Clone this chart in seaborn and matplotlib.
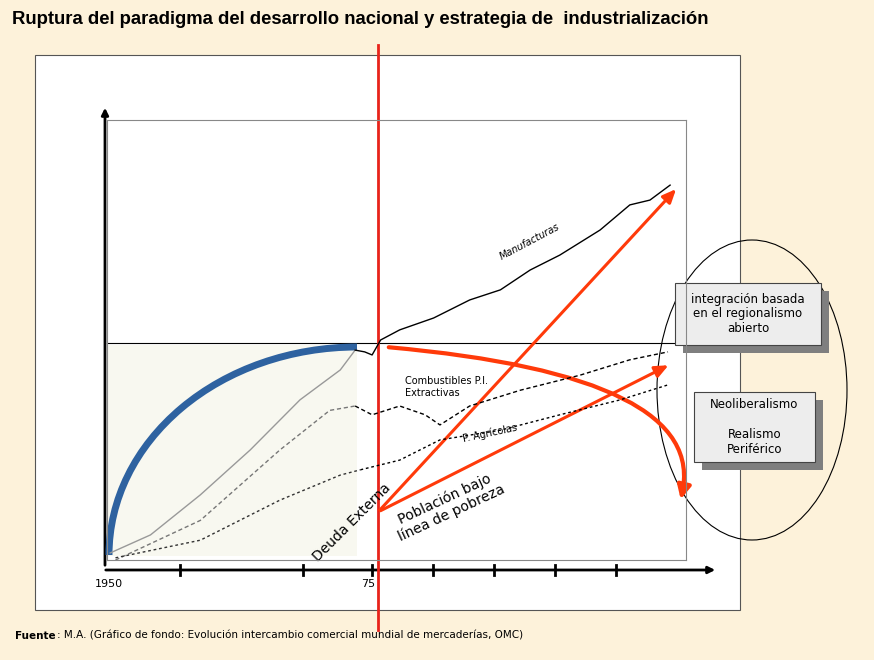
import matplotlib
matplotlib.use("Agg")
import matplotlib.pyplot as plt
import seaborn as sns
import numpy as np
from matplotlib.patches import Rectangle, Ellipse, Arc, FancyArrowPatch

# ---- data (year, index value) ----
manuf_pre_x = [1950.3, 1954.1, 1958.8, 1963.5, 1968.2, 1972.0, 1973.4]
manuf_pre_y = [1.6, 5.7, 14.8, 25.0, 36.4, 43.2, 47.7]
manuf_post_x = [1973.4, 1974.3, 1975.0, 1975.8, 1977.6, 1980.8, 1984.2, 1987.1, 1989.9, 1992.7, 1996.5, 1999.3, 2001.2, 2003.1]
manuf_post_y = [47.7, 47.3, 46.6, 50.0, 52.3, 55.0, 59.1, 61.4, 65.9, 69.3, 75.0, 80.7, 81.8, 85.2]
comb_pre_x = [1950.8, 1958.8, 1966.3, 1971.0, 1973.4]
comb_pre_y = [0.0, 9.0, 25.0, 34.0, 35.0]
comb_post_x = [1973.4, 1975.0, 1977.6, 1980.0, 1981.4, 1984.2, 1989.0, 1994.6, 1999.3, 2002.9]
comb_post_y = [35.0, 33.0, 35.0, 33.0, 30.7, 35.0, 38.6, 42.0, 45.5, 47.3]
agri_pre_x = [1950.8, 1958.8, 1966.3, 1972.0, 1973.9]
agri_pre_y = [0.5, 4.5, 13.6, 19.3, 20.5]
agri_post_x = [1973.9, 1977.6, 1981.4, 1987.1, 1992.7, 1998.4, 2002.9]
agri_post_y = [20.5, 22.7, 27.3, 29.5, 33.0, 36.4, 39.8]
tick_labels = ["1950", "75"]

CREAM = "#FDF2DA"
RED = "#E8231A"
ORANGE = "#FF3A0A"
W, H = 874, 660

fig = plt.figure(figsize=(8.74, 6.6), dpi=100, facecolor=CREAM)
bg = fig.add_axes([0, 0, 1, 1])
bg.set_xlim(0, W); bg.set_ylim(H, 0); bg.axis("off")
bg.set_facecolor(CREAM)

bg.text(12, 20, "Ruptura del paradigma del desarrollo nacional y estrategia de  industrialización",
        fontsize=13.3, fontweight="bold", va="center", family="Liberation Sans")
bg.add_patch(Rectangle((35, 55), 705, 555, facecolor="white", edgecolor="#555555", lw=0.8, zorder=1))
bg.add_patch(Rectangle((107, 345), 250, 211, facecolor="#F8F8F0", edgecolor="none", zorder=2))
bg.plot([107, 686], [343, 343], color="black", lw=0.8, zorder=3)

# axes arrows
bg.annotate("", xy=(105, 105), xytext=(105, 568), arrowprops=dict(arrowstyle="-|>", color="black", lw=2), zorder=4)
bg.annotate("", xy=(718, 570), xytext=(103, 570), arrowprops=dict(arrowstyle="-|>", color="black", lw=2), zorder=4)
for tx in [180, 303, 372, 433, 494, 555, 616]:
    bg.plot([tx, tx], [565, 575], color="black", lw=2, zorder=4)
bg.text(109, 584, tick_labels[0], ha="center", va="center", fontsize=8)
bg.text(368, 584, tick_labels[1], ha="center", va="center", fontsize=8)

# inner data axes
ax = fig.add_axes([107 / W, 100 / H, 579 / W, 440 / H])
ax.patch.set_alpha(0)
ax.set_xlim(1950, 2004.6); ax.set_ylim(0, 100)
ax.set_xticks([]); ax.set_yticks([])
for s in ax.spines.values():
    s.set_color("#888888"); s.set_linewidth(0.8)
kw = dict(ax=ax, sort=False, legend=False)
sns.lineplot(x=manuf_pre_x, y=manuf_pre_y, color="#999999", lw=1, **kw)
sns.lineplot(x=manuf_post_x, y=manuf_post_y, color="black", lw=1, **kw)
sns.lineplot(x=comb_pre_x, y=comb_pre_y, color="#777777", lw=1, linestyle=(0, (3, 2)), **kw)
sns.lineplot(x=comb_post_x, y=comb_post_y, color="black", lw=1, linestyle=(0, (3, 2)), **kw)
sns.lineplot(x=agri_pre_x, y=agri_pre_y, color="#333333", lw=1, linestyle=(0, (2, 2)), **kw)
sns.lineplot(x=agri_post_x, y=agri_post_y, color="black", lw=1, linestyle=(0, (2, 2)), **kw)

# blue arc (y axis inverted -> angles flipped)
bg.add_patch(Arc((357, 555), 496, 416, theta1=180, theta2=270, color="#2E62A0", lw=5, zorder=6))

# labels
bg.text(530, 242, "Manufacturas", rotation=28, fontsize=7, style="italic", ha="center", va="center", zorder=6)
bg.text(405, 387, "Combustibles P.I.\nExtractivas", fontsize=7, ha="left", va="center", zorder=6)
bg.text(490, 433, "P. Agrícolas", rotation=12, fontsize=7, ha="center", va="center", zorder=6)

# red line
bg.plot([378, 378], [45, 630], color=RED, lw=2, zorder=7)
# orange arrows
ap = dict(arrowstyle="-|>,head_length=0.8,head_width=0.35", color=ORANGE, lw=2.2)
bg.annotate("", xy=(678, 187), xytext=(378, 512), arrowprops=ap, zorder=8)
bg.annotate("", xy=(671, 364), xytext=(378, 512), arrowprops=ap, zorder=8)
bg.add_patch(FancyArrowPatch((386, 347), (680, 502), connectionstyle="angle3,angleA=-5,angleB=75",
                             arrowstyle="-|>,head_length=8,head_width=4", color=ORANGE, lw=3, zorder=8))
bg.text(352, 522, "Deuda Externa", rotation=45, fontsize=10, ha="center", va="center", zorder=8)
bg.text(448, 506, "Población bajo\nlínea de pobreza", rotation=25, fontsize=10, ha="center", va="center",
        linespacing=1.1, zorder=8)

# ellipse and boxes
bg.add_patch(Ellipse((752, 390), 190, 300, facecolor="none", edgecolor="black", lw=0.8, zorder=3))
for (x0, y0, w, h, txt) in [(675, 283, 146, 62, "integración basada\nen el regionalismo\nabierto"),
                            (694, 392, 121, 70, "Neoliberalismo\n\nRealismo\nPeriférico")]:
    bg.add_patch(Rectangle((x0 + 8, y0 + 8), w, h, facecolor="#7F7F7F", edgecolor="none", zorder=9))
    bg.add_patch(Rectangle((x0, y0), w, h, facecolor="#EDEDED", edgecolor="#444444", lw=0.8, zorder=10))
    bg.text(x0 + w / 2, y0 + h / 2, txt, ha="center", va="center", fontsize=8.5, linespacing=1.2, zorder=11)

bg.text(15, 636, "Fuente", fontsize=7.5, fontweight="bold", va="center")
bg.text(57, 636, ": M.A. (Gráfico de fondo: Evolución intercambio comercial mundial de mercaderías, OMC)",
        fontsize=7.5, va="center")

fig.savefig("out.png", dpi=100, facecolor=CREAM)
